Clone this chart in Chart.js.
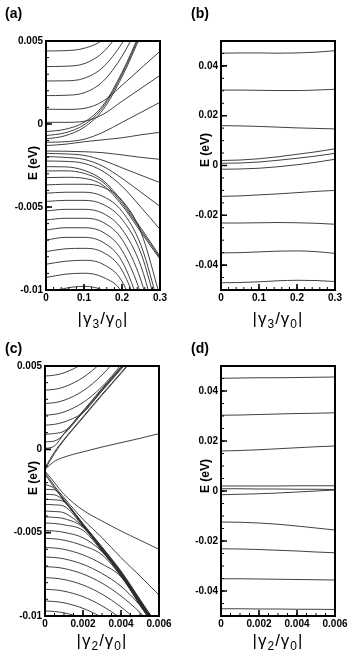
<!DOCTYPE html>
<html>
<head>
<meta charset="utf-8">
<script src="https://cdn.jsdelivr.net/npm/chart.js@4.4.1/dist/chart.umd.min.js"></script>
<style>
  html, body { margin: 0; padding: 0; background: #fff; }
  body { width: 353px; height: 653px; position: relative; overflow: hidden; font-family: 'Liberation Sans', Arial, sans-serif; color: #000; }
  canvas { position: absolute; }
  .tag { position: absolute; font-weight: bold; font-size: 14px; line-height: 14px; }
  .ytitle { position: absolute; font-weight: bold; font-size: 12px; line-height: 12px; white-space: nowrap; transform: translate(-50%, -50%) rotate(-90deg); }
  .xtitle { position: absolute; font-size: 17px; line-height: 17px; letter-spacing: 1px; white-space: nowrap; transform: translate(-50%, -50%); }
  .xtitle sub { font-size: 12px; vertical-align: -4px; line-height: 0; }
</style>
</head>
<body>
<canvas id="chart-a" width="176" height="310" style="left:0;top:0"></canvas>
<canvas id="chart-b" width="177" height="310" style="left:176px;top:0"></canvas>
<canvas id="chart-c" width="176" height="311" style="left:0;top:325px"></canvas>
<canvas id="chart-d" width="177" height="311" style="left:176px;top:325px"></canvas>

<div class="tag" style="left:5px;top:6px">(a)</div>
<div class="tag" style="left:191px;top:6px">(b)</div>
<div class="tag" style="left:5px;top:341px">(c)</div>
<div class="tag" style="left:191px;top:341px">(d)</div>

<div class="ytitle" style="left:33px;top:163px">E (eV)</div>
<div class="ytitle" style="left:205px;top:150px">E (eV)</div>
<div class="ytitle" style="left:33px;top:478px">E (eV)</div>
<div class="ytitle" style="left:205px;top:476px">E (eV)</div>

<div class="xtitle" style="left:103px;top:318px">|γ<sub>3</sub>/γ<sub>0</sub>|</div>
<div class="xtitle" style="left:278px;top:318px">|γ<sub>3</sub>/γ<sub>0</sub>|</div>
<div class="xtitle" style="left:102px;top:640px">|γ<sub>2</sub>/γ<sub>0</sub>|</div>
<div class="xtitle" style="left:278px;top:640px">|γ<sub>2</sub>/γ<sub>0</sub>|</div>

<script>
// x samples (|gamma3/gamma0| for a,b ; |gamma2/gamma0| for c,d)
const xA = [0, 0.05, 0.1, 0.15, 0.2, 0.25, 0.3];
const xB = [0, 0.05, 0.1, 0.15, 0.2, 0.25, 0.3];
const xC = [0, 0.0005, 0.001, 0.002, 0.003, 0.004, 0.005, 0.006];
const xD = [0, 0.001, 0.002, 0.003, 0.004, 0.005, 0.006];

// energy levels (eV), one row per line
const levelsA = [
  [0.00440, 0.00442, 0.00456, 0.00510, 0.00655, 0.00854, 0.01095],
  [0.00346, 0.00348, 0.00363, 0.00432, 0.00577, 0.00775, 0.00986],
  [0.00259, 0.00260, 0.00275, 0.00342, 0.00486, 0.00685, 0.00914],
  [0.00171, 0.00173, 0.00188, 0.00257, 0.00408, 0.00625, 0.00866],
  [0.00089, 0.00088, 0.00094, 0.00137, 0.00233, 0.00336, 0.00438],
  [0.00010, 0.00010, 0.00016, 0.00058, 0.00137, 0.00215, 0.00293],
  [-0.00046, -0.00032, 0.00010, 0.00113, 0.00311, 0.00564, 0.00836],
  [-0.00070, -0.00053, -0.00005, 0.00101, 0.00299, 0.00552, 0.00817],
  [-0.00090, -0.00071, -0.00020, 0.00086, 0.00284, 0.00537, 0.00805],
  [-0.00110, -0.00107, -0.00092, -0.00050, 0.00010, 0.00070, 0.00131],
  [-0.00130, -0.00122, -0.00107, -0.00095, -0.00083, -0.00065, -0.00050],
  [-0.00163, -0.00164, -0.00167, -0.00173, -0.00186, -0.00201, -0.00213],
  [-0.00177, -0.00180, -0.00189, -0.00219, -0.00264, -0.00309, -0.00353],
  [-0.00196, -0.00201, -0.00213, -0.00255, -0.00327, -0.00411, -0.00496],
  [-0.00223, -0.00225, -0.00237, -0.00285, -0.00375, -0.00502, -0.00634],
  [-0.00257, -0.00258, -0.00279, -0.00339, -0.00466, -0.00628, -0.00797],
  [-0.00283, -0.00282, -0.00297, -0.00351, -0.00478, -0.00640, -0.00806],
  [-0.00323, -0.00321, -0.00327, -0.00369, -0.00490, -0.00652, -0.00815],
  [-0.00367, -0.00363, -0.00363, -0.00381, -0.00460, -0.00652, -0.01038],
  [-0.00417, -0.00411, -0.00411, -0.00436, -0.00526, -0.00731, -0.01122],
  [-0.00467, -0.00460, -0.00460, -0.00484, -0.00574, -0.00779, -0.01183],
  [-0.00524, -0.00514, -0.00514, -0.00538, -0.00634, -0.00857, -0.01273],
  [-0.00578, -0.00568, -0.00568, -0.00592, -0.00695, -0.00942, -0.01363],
  [-0.00639, -0.00625, -0.00625, -0.00652, -0.00761, -0.01026, -0.01454],
  [-0.00699, -0.00683, -0.00683, -0.00713, -0.00827, -0.01122, -0.01544],
  [-0.00769, -0.00752, -0.00749, -0.00773, -0.00881, -0.01170, -0.01604],
  [-0.00845, -0.00827, -0.00821, -0.00845, -0.00948, -0.01243, -0.01665],
  [-0.00925, -0.00905, -0.00899, -0.00923, -0.01014, -0.01303, -0.01725],
  [-0.01020, -0.00990, -0.00978, -0.01002, -0.01092, -0.01363, -0.01785]
];

const levelsB = [
  [0.0451, 0.0452, 0.0452, 0.0451, 0.0452, 0.0455, 0.0461],
  [0.0303, 0.0303, 0.0302, 0.0301, 0.0301, 0.0303, 0.0306],
  [0.0160, 0.0159, 0.0157, 0.0154, 0.0151, 0.0149, 0.0147],
  [0.0020, 0.0022, 0.0027, 0.0035, 0.0045, 0.0055, 0.0067],
  [0.0009, 0.0010, 0.0014, 0.0021, 0.0029, 0.0038, 0.0049],
  [-0.0015, -0.0014, -0.0011, -0.0005, 0.0003, 0.0013, 0.0025],
  [-0.0124, -0.0122, -0.0118, -0.0114, -0.0109, -0.0104, -0.0100],
  [-0.0231, -0.0231, -0.0230, -0.0229, -0.0230, -0.0232, -0.0236],
  [-0.0351, -0.0350, -0.0347, -0.0344, -0.0343, -0.0346, -0.0353],
  [-0.0471, -0.0470, -0.0467, -0.0463, -0.0461, -0.0462, -0.0466]
];

const levelsC = [
  [0.00440, 0.00445, 0.00459, 0.00516, 0.00611, 0.00744, 0.00915, 0.01124],
  [0.00355, 0.00360, 0.00374, 0.00431, 0.00526, 0.00659, 0.00830, 0.01039],
  [0.00275, 0.00280, 0.00294, 0.00351, 0.00446, 0.00579, 0.00750, 0.00959],
  [0.00205, 0.00210, 0.00224, 0.00281, 0.00376, 0.00509, 0.00680, 0.00889],
  [0.00145, 0.00150, 0.00164, 0.00221, 0.00350, 0.00480, 0.00620, 0.00829],
  [0.00090, 0.00095, 0.00109, 0.00220, 0.00355, 0.00485, 0.00620, 0.00755],
  [0.00045, 0.00050, 0.00090, 0.00225, 0.00360, 0.00490, 0.00625, 0.00760],
  [0.00005, 0.00020, 0.00095, 0.00230, 0.00365, 0.00495, 0.00630, 0.00765],
  [-0.00110, -0.00015, 0.00060, 0.00195, 0.00330, 0.00460, 0.00595, 0.00730],
  [-0.00120, -0.00025, 0.00055, 0.00190, 0.00325, 0.00455, 0.00590, 0.00725],
  [-0.00120, -0.00072, -0.00047, -0.00015, 0.00014, 0.00040, 0.00066, 0.00094],
  [-0.00130, -0.00200, -0.00270, -0.00365, -0.00430, -0.00490, -0.00545, -0.00600],
  [-0.00140, -0.00220, -0.00290, -0.00420, -0.00530, -0.00650, -0.00760, -0.00875],
  [-0.00150, -0.00230, -0.00300, -0.00445, -0.00585, -0.00730, -0.00900, -0.01070],
  [-0.00210, -0.00235, -0.00305, -0.00450, -0.00590, -0.00735, -0.00905, -0.01075],
  [-0.00240, -0.00243, -0.00308, -0.00453, -0.00593, -0.00738, -0.00908, -0.01078],
  [-0.00270, -0.00273, -0.00311, -0.00456, -0.00596, -0.00741, -0.00911, -0.01081],
  [-0.00300, -0.00303, -0.00314, -0.00459, -0.00599, -0.00744, -0.00914, -0.01084],
  [-0.00330, -0.00333, -0.00341, -0.00462, -0.00602, -0.00747, -0.00917, -0.01087],
  [-0.00370, -0.00373, -0.00381, -0.00465, -0.00605, -0.00750, -0.00920, -0.01090],
  [-0.00405, -0.00408, -0.00416, -0.00468, -0.00608, -0.00753, -0.00923, -0.01093],
  [-0.00442, -0.00445, -0.00453, -0.00486, -0.00611, -0.00756, -0.00926, -0.01096],
  [-0.00487, -0.00490, -0.00498, -0.00531, -0.00614, -0.00759, -0.00929, -0.01099],
  [-0.00534, -0.00537, -0.00545, -0.00578, -0.00633, -0.00762, -0.00932, -0.01102],
  [-0.00589, -0.00592, -0.00600, -0.00633, -0.00688, -0.00765, -0.00935, -0.01105],
  [-0.00646, -0.00649, -0.00657, -0.00690, -0.00745, -0.00822, -0.00938, -0.01108],
  [-0.00704, -0.00707, -0.00715, -0.00748, -0.00803, -0.00880, -0.00979, -0.01100],
  [-0.00770, -0.00773, -0.00781, -0.00814, -0.00869, -0.00946, -0.01045, -0.01166],
  [-0.00840, -0.00843, -0.00851, -0.00884, -0.00939, -0.01016, -0.01115, -0.01236],
  [-0.00910, -0.00913, -0.00921, -0.00954, -0.01009, -0.01086, -0.01185, -0.01306],
  [-0.00970, -0.00973, -0.00981, -0.01014, -0.01069, -0.01146, -0.01245, -0.01366]
];

const levelsD = [
  [0.0451, 0.0452, 0.0453, 0.0453, 0.0454, 0.0455, 0.0456],
  [0.0303, 0.0304, 0.0306, 0.0308, 0.0310, 0.0311, 0.0313],
  [0.0160, 0.0162, 0.0165, 0.0169, 0.0173, 0.0177, 0.0180],
  [0.0020, 0.0020, 0.0020, 0.0020, 0.0021, 0.0021, 0.0021],
  [0.0009, 0.0009, 0.0008, 0.0008, 0.0007, 0.0007, 0.0006],
  [-0.0015, -0.0013, -0.0011, -0.0008, -0.0004, 0.0000, 0.0004],
  [-0.0124, -0.0125, -0.0128, -0.0133, -0.0140, -0.0148, -0.0156],
  [-0.0231, -0.0232, -0.0234, -0.0237, -0.0240, -0.0244, -0.0247],
  [-0.0351, -0.0351, -0.0352, -0.0353, -0.0354, -0.0355, -0.0356],
  [-0.0471, -0.0471, -0.0472, -0.0472, -0.0473, -0.0473, -0.0474]
];

// tick values and labels
const xTicksTop = [0, 0.1, 0.2, 0.3];
const xLabelsTop = ['0', '0.1', '0.2', '0.3'];
const xTicksBottom = [0, 0.002, 0.004, 0.006];
const xLabelsBottom = ['0', '0.002', '0.004', '0.006'];
const yTicksFine = [-0.01, -0.005, 0, 0.005];
const yLabelsFine = ['-0.01', '-0.005', '0', '0.005'];
const yTicksWide = [-0.04, -0.02, 0, 0.02, 0.04];
const yLabelsWide = ['-0.04', '-0.02', '0', '0.02', '0.04'];

const tickFont = { family: '"Liberation Sans", Arial, sans-serif', size: 10, weight: 'bold' };

function steps(from, to, step) {
  const n = Math.round((to - from) / step);
  return Array.from({ length: n + 1 }, (_, i) => +(from + i * step).toFixed(6));
}

// inward ticks + heavy frame, like the original plotting package
const frameTicks = {
  id: 'frameTicks',
  afterDatasetsDraw(chart, args, opts) {
    const { ctx, chartArea: a, scales: { x, y } } = chart;
    ctx.save();
    ctx.strokeStyle = '#000';

    const mark = (vals, len, width) => {
      ctx.lineWidth = width;
      ctx.beginPath();
      vals.x.forEach((v) => {
        const px = x.getPixelForValue(v);
        ctx.moveTo(px, a.bottom);
        ctx.lineTo(px, a.bottom - len);
      });
      vals.y.forEach((v) => {
        const py = y.getPixelForValue(v);
        ctx.moveTo(a.left, py);
        ctx.lineTo(a.left + len, py);
      });
      ctx.stroke();
    };

    mark({ x: opts.xMinor, y: opts.yMinor }, 3, 1);
    mark({ x: opts.xTicks, y: opts.yTicks }, 6, 1.6);

    ctx.lineWidth = 2;
    ctx.strokeRect(a.left, a.top, a.right - a.left, a.bottom - a.top);
    ctx.restore();
  }
};

function makeChart(id, cfg) {
  const datasets = cfg.levels.map((line) => ({
    data: cfg.xs.map((x, i) => ({ x, y: line[i] })),
    borderColor: '#2b2b2b',
    borderWidth: 0.9,
    pointRadius: 0,
    fill: false,
    cubicInterpolationMode: 'monotone'
  }));

  return new Chart(document.getElementById(id), {
    type: 'line',
    data: { datasets },
    plugins: [frameTicks],
    options: {
      responsive: false,
      animation: false,
      events: [],
      layout: { padding: { top: 41, right: cfg.padRight, left: 0, bottom: 0 } },
      plugins: {
        legend: { display: false },
        tooltip: { enabled: false },
        frameTicks: {
          xTicks: cfg.xTicks,
          yTicks: cfg.yTicks,
          xMinor: cfg.xMinor,
          yMinor: cfg.yMinor
        }
      },
      scales: {
        x: {
          type: 'linear',
          min: cfg.xTicks[0],
          max: cfg.xTicks[cfg.xTicks.length - 1],
          grid: { display: false, drawTicks: false },
          border: { display: false },
          afterBuildTicks(scale) {
            scale.ticks = cfg.xTicks.map((v) => ({ value: v }));
          },
          afterFit(scale) {
            scale.height = 20;
          },
          ticks: {
            autoSkip: false,
            maxRotation: 0,
            padding: 2,
            color: '#000',
            font: tickFont,
            callback: (v, i) => cfg.xLabels[i]
          }
        },
        y: {
          type: 'linear',
          min: cfg.yRange[0],
          max: cfg.yRange[1],
          grid: { display: false, drawTicks: false },
          border: { display: false },
          afterBuildTicks(scale) {
            scale.ticks = cfg.yTicks.map((v) => ({ value: v }));
          },
          afterFit(scale) {
            scale.width = cfg.yWidth;
          },
          ticks: {
            autoSkip: false,
            padding: 3,
            color: '#000',
            font: tickFont,
            callback: (v, i) => cfg.yLabels[i]
          }
        }
      }
    }
  });
}

makeChart('chart-a', {
  xs: xA, levels: levelsA,
  xTicks: xTicksTop, xLabels: xLabelsTop, xMinor: steps(0, 0.3, 0.02),
  yRange: [-0.01, 0.005],
  yTicks: yTicksFine, yLabels: yLabelsFine, yMinor: steps(-0.01, 0.005, 0.001),
  yWidth: 46, padRight: 16
});

makeChart('chart-b', {
  xs: xB, levels: levelsB,
  xTicks: xTicksTop, xLabels: xLabelsTop, xMinor: steps(0, 0.3, 0.02),
  yRange: [-0.05, 0.05],
  yTicks: yTicksWide, yLabels: yLabelsWide, yMinor: steps(-0.05, 0.05, 0.005),
  yWidth: 45, padRight: 18
});

makeChart('chart-c', {
  xs: xC, levels: levelsC,
  xTicks: xTicksBottom, xLabels: xLabelsBottom, xMinor: steps(0, 0.006, 0.0005),
  yRange: [-0.01, 0.005],
  yTicks: yTicksFine, yLabels: yLabelsFine, yMinor: steps(-0.01, 0.005, 0.001),
  yWidth: 45, padRight: 17
});

makeChart('chart-d', {
  xs: xD, levels: levelsD,
  xTicks: xTicksBottom, xLabels: xLabelsBottom, xMinor: steps(0, 0.006, 0.0005),
  yRange: [-0.05, 0.05],
  yTicks: yTicksWide, yLabels: yLabelsWide, yMinor: steps(-0.05, 0.05, 0.005),
  yWidth: 45, padRight: 18
});
</script>
</body>
</html>
